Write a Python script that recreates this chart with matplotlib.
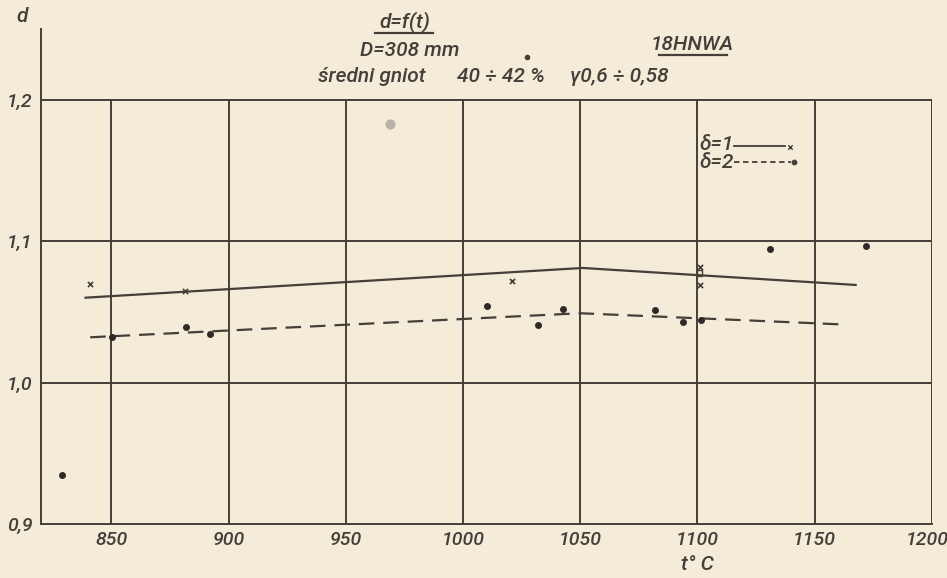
import matplotlib
matplotlib.use("Agg")
import matplotlib.pyplot as plt
import matplotlib.transforms as mtransforms
from matplotlib.lines import Line2D

# --- data ---
t_ticks = [850, 900, 950, 1000, 1050, 1100, 1150, 1200]
d_ticks = [0.9, 1.0, 1.1, 1.2]
d_labels = ["0,9", "1,0", "1,1", "1,2"]

# delta = 1 (solid curve and crosses)
line1_t = [839, 1051, 1167.5]
line1_d = [1.060, 1.081, 1.069]
pts1_t = [841, 881.5, 1021, 1101, 1101]
pts1_d = [1.070, 1.065, 1.0716, 1.0818, 1.0693]
sq1_t = [1101]
sq1_d = [1.0775]

# delta = 2 (dashed curve and dots)
line2_t = [841, 1050, 1163]
line2_d = [1.032, 1.049, 1.041]
pts2_t = [829, 850.3, 881.9, 892.2, 1010.4, 1031.9, 1042.6, 1081.8, 1093.7, 1101.7, 1130.9, 1171.8]
pts2_d = [0.935, 1.0323, 1.0391, 1.0346, 1.0544, 1.0408, 1.0521, 1.0511, 1.0429, 1.0445, 1.0945, 1.0963]

# stray grey blot on the scan
blot_t = [968.8]
blot_d = [1.1828]

paper = "#f4ecd9"
ink = "#443f39"

plt.rcParams['font.family'] = ['Roboto', 'DejaVu Sans']
plt.rcParams['font.style'] = 'italic'
plt.rcParams['font.weight'] = 'medium'

fig = plt.figure(figsize=(9.47, 5.78), dpi=100, facecolor=paper)
ax = fig.add_axes([0.0433, 0.0934, 0.9407, 0.8566])
ax.set_facecolor(paper)
ax.set_xlim(820, 1200)
ax.set_ylim(0.9, 1.25)

for s in ['top', 'right']:
    ax.spines[s].set_visible(False)
for s in ['left', 'bottom']:
    ax.spines[s].set_color(ink)
    ax.spines[s].set_linewidth(1.4)

# hand drawn grid
for t in t_ticks:
    ax.plot([t, t], [0.9, 1.2], color=ink, lw=1.4, zorder=1)
for d in d_ticks[1:]:
    ax.plot([820, 1200], [d, d], color=ink, lw=1.4, zorder=1)

ax.set_xticks(t_ticks)
ax.set_xticklabels([str(t) for t in t_ticks])
ax.set_yticks(d_ticks)
ax.set_yticklabels(d_labels)
ax.tick_params(length=0, labelsize=14, colors=ink)
ax.tick_params(axis='x', pad=5)
ax.tick_params(axis='y', pad=6)

# keep the last x label inside the page
last = ax.get_xticklabels()[-1]
last.set_transform(last.get_transform() + mtransforms.ScaledTranslation(-5 / 100, 0, fig.dpi_scale_trans))

# curves
ax.plot(line1_t, line1_d, color=ink, lw=1.6, zorder=3)
ax.plot(line2_t, line2_d, color=ink, lw=1.6, ls=(0, (7, 4)), zorder=3)
ax.scatter(pts1_t, pts1_d, marker='x', s=14, color=ink, lw=1.2, zorder=4)
ax.scatter(sq1_t, sq1_d, marker='s', s=14, facecolor='none', edgecolor=ink, lw=1, zorder=4)
ax.scatter(pts2_t, pts2_d, marker='o', s=16, color="#2e2a26", zorder=4)
ax.scatter(blot_t, blot_d, marker='o', s=40, color="#b9b2a6", zorder=2)

# legend drawn like the original: label, line, then marker
ax.text(1101, 1.168, "δ=1", fontsize=15, color=ink, va='center', ha='left')
ax.plot([1115.5, 1137.5], [1.1675, 1.1675], color=ink, lw=1.3)
ax.scatter([1139.5], [1.1665], marker='x', s=10, color=ink, lw=1)
ax.text(1101, 1.1555, "δ=2", fontsize=15, color=ink, va='center', ha='left')
ax.plot([1115.5, 1140], [1.156, 1.156], color=ink, lw=1.3, ls=(0, (3, 2)))
ax.scatter([1141], [1.156], marker='o', s=10, color=ink)

# axis names
fig.text(22 / 947, 1 - 17 / 578, "d", fontsize=15, color=ink, ha='center', va='center')
fig.text(697 / 947, 1 - 565 / 578, "t° C", fontsize=15, color=ink, ha='center', va='center')

# header
fig.text(405 / 947, 1 - 22 / 578, "d=f(t)", fontsize=15, color=ink, ha='center', va='center')
fig.add_artist(Line2D([375 / 947, 433 / 947], [1 - 33 / 578] * 2, color=ink, lw=1.6))
fig.text(410 / 947, 1 - 50 / 578, "D=308 mm", fontsize=15, color=ink, ha='center', va='center')
fig.text(318 / 947, 1 - 77 / 578, "średni gniot", fontsize=15, color=ink, ha='left', va='center')
fig.text(457 / 947, 1 - 77 / 578, "40 ÷ 42 %", fontsize=15, color=ink, ha='left', va='center')
fig.text(570 / 947, 1 - 77 / 578, "γ0,6 ÷ 0,58", fontsize=15, color=ink, ha='left', va='center')
fig.text(692 / 947, 1 - 45 / 578, "18HNWA", fontsize=15, color=ink, ha='center', va='center')
fig.add_artist(Line2D([659 / 947, 727 / 947], [1 - 55 / 578] * 2, color=ink, lw=1.6))
fig.add_artist(Line2D([527 / 947], [1 - 57 / 578], marker='o', ms=3, color=ink))

fig.savefig("out.png", dpi=100, facecolor=paper)
